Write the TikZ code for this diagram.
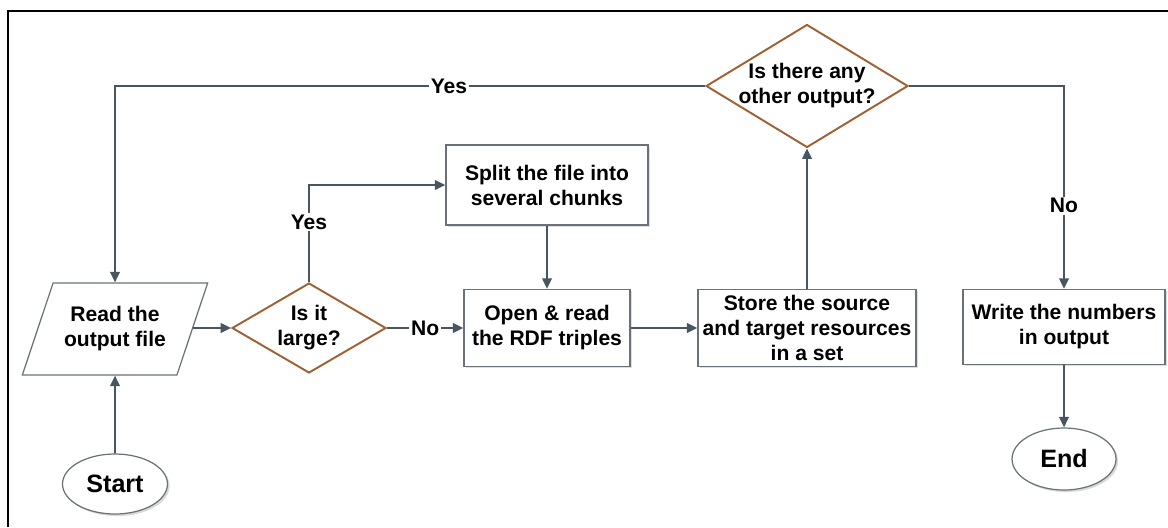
\documentclass[tikz,border=0pt]{standalone}
\usepackage{fontspec}
\setmainfont{Liberation Sans}
\usepackage{tikz}
\usetikzlibrary{%
arrows.meta,
calc,
positioning,
shadows,
shapes.geometric
}
\definecolor{linecol}{RGB}{72,86,95}
\definecolor{boxcol}{RGB}{105,114,120}
\definecolor{decicol}{RGB}{160,96,52}
\tikzset{
  every node/.style={font=\fontsize{12}{14.2}\selectfont\bfseries, align=center},
  procbox/.style={rectangle, draw=boxcol, line width=0.8pt, fill=white, inner xsep=2pt,
    drop shadow={shadow xshift=1pt, shadow yshift=-1pt, opacity=0.25}},
  iobox/.style={trapezium, trapezium left angle=63.4, trapezium right angle=116.6,
    trapezium stretches=true, draw=boxcol, line width=0.7pt, fill=white},
  decibox/.style={diamond, draw=decicol, line width=1.1pt, fill=white, inner sep=-3pt},
  termbox/.style={ellipse, draw=boxcol, line width=0.7pt, fill=white,
    font=\fontsize{14.3}{16}\selectfont\bfseries,
    drop shadow={shadow xshift=1.2pt, shadow yshift=-1.2pt, opacity=0.3}},
  flow/.style={draw=linecol, line width=1.1pt, -{Triangle[length=6pt,width=5.5pt]}},
  lbl/.style={fill=white, inner sep=1pt}
}
\begin{document}
\begin{tikzpicture}[x=0.02cm, y=-0.02cm]
    \useasboundingbox (0,0) rectangle (1168,527);
    % frame of the figure
    \draw[black, line width=1.3pt] (8,527) -- (8,11) -- (1168,11);

    % the blocks
    \node[termbox, minimum width=2.1cm, minimum height=1.2cm] (start) at (115,484) {Start};
    \node[iobox, minimum width=3.72cm, minimum height=1.84cm] (read) at (115,329) {Read the\\output file};
    \node[decibox, aspect=1.71, minimum width=3.08cm, minimum height=1.8cm] (large) at (309,328) {Is it\\large?};
    \node[procbox, minimum width=4.04cm, minimum height=1.6cm] (split) at (547,185) {Split the file into\\several chunks};
    \node[procbox, minimum width=3.32cm, minimum height=1.54cm] (open) at (547,328) {Open \& read\\the RDF triples};
    \node[procbox, minimum width=4.36cm, minimum height=1.54cm] (store) at (807,328) {Store the source\\and target resources\\in a set};
    \node[decibox, aspect=1.64, minimum width=4.04cm, minimum height=2.46cm] (other) at (807,86) {Is there any\\other output?};
    \node[procbox, minimum width=4.04cm, minimum height=1.5cm] (write) at (1064,327) {Write the numbers\\in output};
    \node[termbox, minimum width=2.08cm, minimum height=1.24cm] (end) at (1064,459) {End};

    % the connectors
    \draw[flow] (start) -- (read);
    \draw[flow] (read.east |- large.west) -- (large.west);
    \draw[flow] (large.north) -- node[lbl, pos=0.62] {Yes} (large.north |- split.west) -- (split.west);
    \draw[flow] (large.east) -- node[lbl] {No} (open.west);
    \draw[flow] (split) -- (open);
    \draw[flow] (open) -- (store);
    \draw[flow] (store) -- (other.south);
    \draw[flow] (other.west) -- node[lbl, pos=0.434] {Yes} (other.west -| read.north) -- (read.north);
    \draw[flow] (other.east) -- (other.east -| write.north) -- node[lbl, pos=0.59] {No} (write.north);
    \draw[flow] (write) -- (end);
\end{tikzpicture}
\end{document}
